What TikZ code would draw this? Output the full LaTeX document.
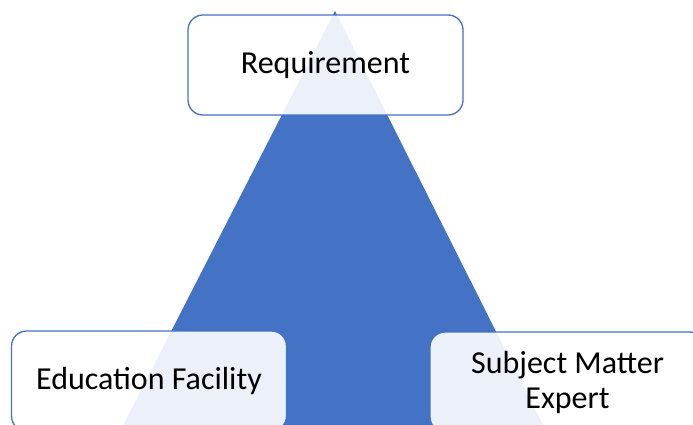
\documentclass[tikz,border=0pt]{standalone}
\usepackage{fontspec}
\setmainfont{Carlito}
\usetikzlibrary{positioning}

\definecolor{tribl}{HTML}{4472C4}

\begin{document}
\begin{tikzpicture}[
  x=1pt, y=-1pt,
  font=\fontsize{32}{35}\selectfont,
  box/.style={draw=tribl, line width=1.3pt, rounded corners=15pt, fill=white, fill opacity=0.9,
    text opacity=1, minimum width=275pt, minimum height=100pt, inner sep=0pt, align=center}
]
\useasboundingbox (0,0) rectangle (693,425);
\clip (0,0) rectangle (693,425);

% Triangle behind the boxes
\coordinate (top) at (335,11);
\coordinate (left) at (113,445);
\coordinate (right) at (553,445);
\fill[tribl] (top) -- (left) -- (right) -- cycle;

% Three corners
\node[box] (req) at (325.5,65) {Requirement};
\node[box] (edu) at (149,381) {Education Facility};
\node[box] (sme) at (567.5,382) {Subject Matter\\Expert};
\end{tikzpicture}
\end{document}
